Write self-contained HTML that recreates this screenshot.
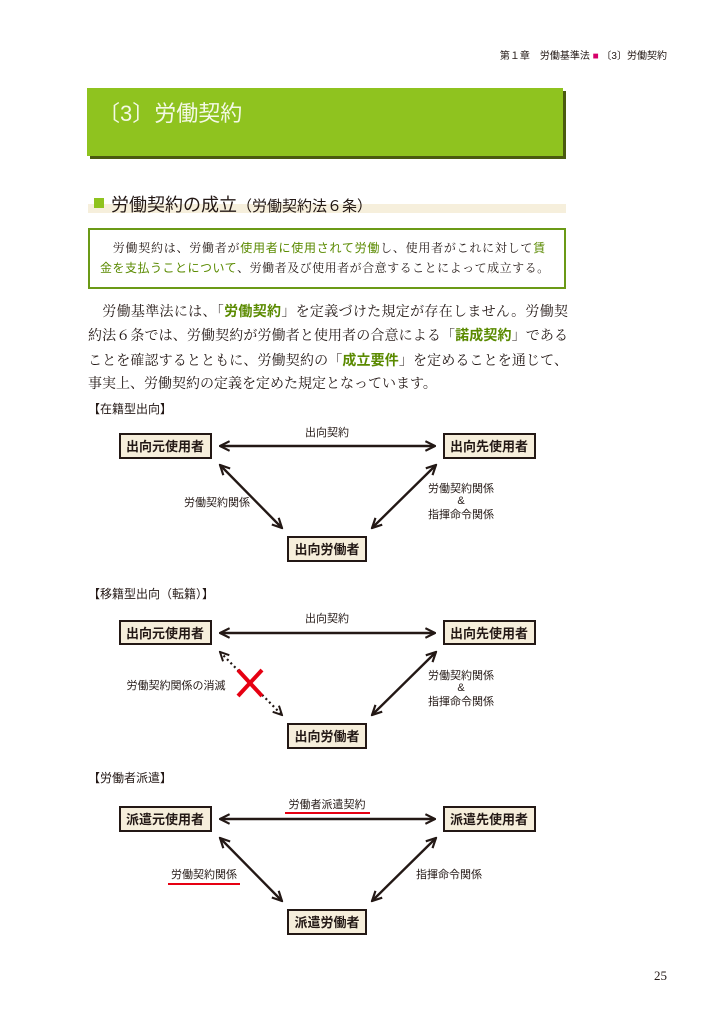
<!DOCTYPE html>
<html><head><meta charset="utf-8"><style>
body{margin:0;background:#fff;}
#pg{position:relative;width:726px;height:1024px;overflow:hidden;font-family:"Liberation Sans","Noto Sans CJK JP",sans-serif;color:#231815;}
.p{position:absolute;left:88px;width:480px;font-size:14px;line-height:23.4px;text-align:justify;letter-spacing:0px;font-family:"Liberation Serif","Noto Serif CJK SC",serif;}
.g{color:#5a8a00;font-weight:bold;font-family:"Liberation Sans","Noto Sans CJK JP",sans-serif;}
.bx{position:absolute;left:100px;width:460px;font-size:12px;line-height:20px;white-space:nowrap;font-family:'Liberation Serif','Noto Serif CJK SC',serif;}
</style></head><body><div id="pg">
<div style="position:absolute;right:59px;top:47px;font-size:10px;">第１章　労働基準法 <span style="color:#d6006a">■</span> 〔3〕労働契約</div>
<div style="position:absolute;left:90px;top:91px;width:476px;height:68px;background:#4a5a10;"></div>
<div style="position:absolute;left:87px;top:88px;width:476px;height:68px;background:#8fc31f;"></div>
<div style="position:absolute;left:98px;top:96px;font-size:22px;color:#f4f9e6;">〔3〕労働契約</div>
<div style="position:absolute;left:88px;top:204px;width:478px;height:9px;background:#f6efdc;"></div>
<div style="position:absolute;left:94px;top:198px;width:10px;height:10px;background:#8fc31f;"></div>
<div style="position:absolute;left:111px;top:191px;font-size:18px;white-space:nowrap;">労働契約の成立<span style="font-size:15px;">（労働契約法６条）</span></div>
<div style="position:absolute;left:88px;top:228px;width:474px;height:57px;border:2px solid #6b9a16;"></div>
<div class="bx" style="top:238px;letter-spacing:0.75px;">　労働契約は、労働者が<span class="g" style="font-weight:normal">使用者に使用されて労働</span>し、使用者がこれに対して<span class="g" style="font-weight:normal">賃</span></div>
<div class="bx" style="top:258px;letter-spacing:0.5px;"><span class="g" style="font-weight:normal">金を支払うことについて</span>、労働者及び使用者が合意することによって成立する。</div>
<div class="p" style="top:300px;">　労働基準法には、「<span class="g">労働契約</span>」を定義づけた規定が存在しません。労働契約法６条では、労働契約が労働者と使用者の合意による「<span class="g">諾成契約</span>」であることを確認するとともに、労働契約の「<span class="g">成立要件</span>」を定めることを通じて、事実上、労働契約の定義を定めた規定となっています。</div>
<svg width="726" height="1024" style="position:absolute;left:0;top:0" font-family="Liberation Sans,Noto Sans CJK JP,sans-serif">
<defs><marker id="a" viewBox="0 0 10 10" refX="9" refY="5" markerWidth="5" markerHeight="5" orient="auto-start-reverse" markerUnits="strokeWidth"><path d="M1,1 L9,5 L1,9" fill="none" stroke="#231815" stroke-width="1.8"/></marker></defs>
<g font-size="12" fill="#231815">
<text x="88" y="413">【在籍型出向】</text>
<text x="88" y="598">【移籍型出向（転籍）】</text>
<text x="88" y="782">【労働者派遣】</text>
</g>
<g stroke="#231815" stroke-width="2" fill="#f6eedb">
<rect x="120" y="434" width="91" height="24"/><rect x="444" y="434" width="91" height="24"/><rect x="288" y="537" width="78" height="24"/>
<rect x="120" y="621" width="91" height="23"/><rect x="444" y="621" width="91" height="23"/><rect x="288" y="724" width="78" height="24"/>
<rect x="120" y="807" width="91" height="24"/><rect x="444" y="807" width="91" height="24"/><rect x="288" y="910" width="78" height="24"/>
</g>
<g font-size="13" font-weight="bold" text-anchor="middle" fill="#231815">
<text x="165" y="451">出向元使用者</text><text x="489" y="451">出向先使用者</text><text x="327" y="554">出向労働者</text>
<text x="165" y="638">出向元使用者</text><text x="489" y="638">出向先使用者</text><text x="327" y="741">出向労働者</text>
<text x="165" y="824">派遣元使用者</text><text x="489" y="824">派遣先使用者</text><text x="327" y="927">派遣労働者</text>
</g>
<g stroke="#231815" stroke-width="2.4" marker-start="url(#a)" marker-end="url(#a)">
<line x1="220" y1="446" x2="435" y2="446"/><line x1="220" y1="465" x2="282" y2="528"/><line x1="436" y1="465" x2="372" y2="528"/>
<line x1="220" y1="633" x2="435" y2="633"/><line x1="436" y1="652" x2="372" y2="715"/>
<line x1="220" y1="819" x2="435" y2="819"/><line x1="220" y1="838" x2="282" y2="901"/><line x1="436" y1="838" x2="372" y2="901"/>
</g>
<line x1="220" y1="652" x2="282" y2="715" stroke="#231815" stroke-width="2.2" stroke-dasharray="2,3" marker-start="url(#a)" marker-end="url(#a)"/>
<g stroke="#e60012" stroke-width="4"><line x1="238" y1="670" x2="262" y2="696"/><line x1="262" y1="670" x2="238" y2="696"/></g>
<g font-size="11" fill="#231815" text-anchor="middle">
<text x="327" y="436">出向契約</text><text x="217" y="506">労働契約関係</text>
<text x="461" y="492">労働契約関係</text><text x="461" y="504">&amp;</text><text x="461" y="518">指揮命令関係</text>
<text x="327" y="622">出向契約</text><text x="176" y="689">労働契約関係の消滅</text>
<text x="461" y="679">労働契約関係</text><text x="461" y="691">&amp;</text><text x="461" y="705">指揮命令関係</text>
<text x="327" y="808">労働者派遣契約</text><text x="204" y="878">労働契約関係</text><text x="449" y="878">指揮命令関係</text>
</g>
<g stroke="#e60012" stroke-width="2"><line x1="285" y1="813" x2="370" y2="813"/><line x1="168" y1="884" x2="240" y2="884"/></g>
<text x="667" y="980" font-size="13" text-anchor="end" fill="#231815" font-family="Liberation Serif,serif">25</text>
</svg>
</div></body></html>
